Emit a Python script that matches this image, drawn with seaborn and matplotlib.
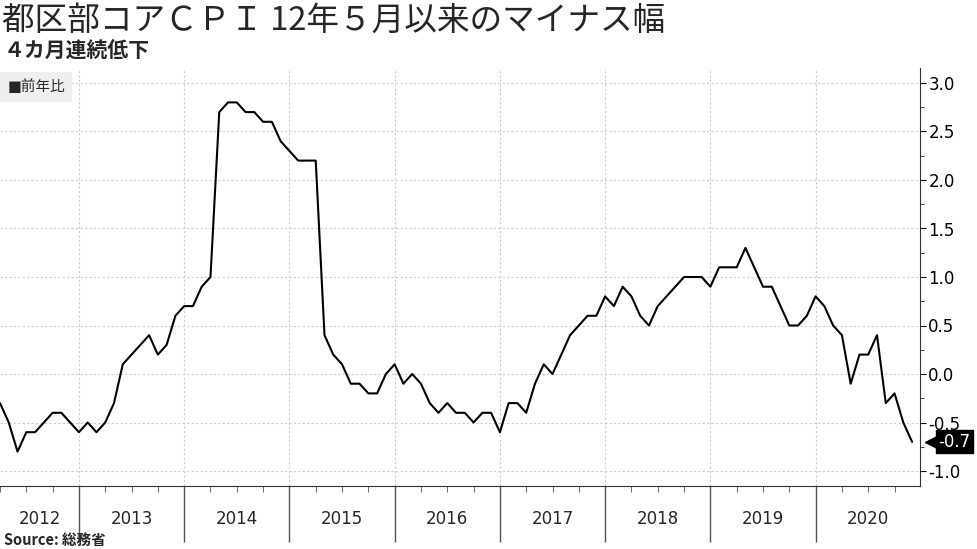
import numpy as np
import pandas as pd
import matplotlib
matplotlib.use("Agg")
import matplotlib.pyplot as plt
import seaborn as sns

start_year = 2012
start_month = 4
values = [-0.3,-0.5,-0.8,-0.6,-0.6,-0.5,-0.4,-0.4,-0.5,
          -0.6,-0.5,-0.6,-0.5,-0.3,0.1,0.2,0.3,0.4,0.2,0.3,0.6,
          0.7,0.7,0.9,1.0,2.7,2.8,2.8,2.7,2.7,2.6,2.6,2.4,
          2.3,2.2,2.2,2.2,0.4,0.2,0.1,-0.1,-0.1,-0.2,-0.2,0.0,
          0.1,-0.1,0.0,-0.1,-0.3,-0.4,-0.3,-0.4,-0.4,-0.5,-0.4,-0.4,
          -0.6,-0.3,-0.3,-0.4,-0.1,0.1,0.0,0.2,0.4,0.5,0.6,0.6,
          0.8,0.7,0.9,0.8,0.6,0.5,0.7,0.8,0.9,1.0,1.0,1.0,
          0.9,1.1,1.1,1.1,1.3,1.1,0.9,0.9,0.7,0.5,0.5,0.6,
          0.8,0.7,0.5,0.4,-0.1,0.2,0.2,0.4,-0.3,-0.2,-0.5,-0.7]
years = list(range(2012, 2021))
yticks = [3.0,2.5,2.0,1.5,1.0,0.5,0.0,-0.5,-1.0]
title = "都区部コアＣＰＩ 12年５月以来のマイナス幅"
subtitle = "４カ月連続低下"
legend_label = "前年比"
source = "Source: 総務省"

t = start_year + (start_month - 1) / 12 + np.arange(len(values)) / 12
df = pd.DataFrame({"t": t, "v": values})

sns.set_style("white")
plt.rcParams['font.family'] = ['Noto Sans CJK JP', 'DejaVu Sans']

fig = plt.figure(figsize=(9.77, 5.49), dpi=100)
ax = fig.add_axes([0, 1 - 486/549, 920/977, (486-68)/549])
sns.lineplot(data=df, x="t", y="v", ax=ax, color="black", lw=1.5)
x0 = t[0]

ax.yaxis.tick_right()
ax.set_yticks(yticks)
ax.set_yticklabels([f"{v:.1f}" for v in yticks], fontsize=12, family=['DejaVu Sans'])
ax.set_yticks(np.arange(-1.0, 3.01, 0.25), minor=True)
ax.tick_params(axis='y', which='major', right=True, length=4, pad=2, colors='black')
ax.tick_params(axis='y', which='minor', right=True, length=3)
for s in ["top", "left"]:
    ax.spines[s].set_visible(False)
ax.spines["right"].set_color("#333")
ax.spines["bottom"].set_color("#333")

ax.set_xticks(years[1:])
ax.set_xticklabels([])
ax.tick_params(axis='x', which='major', bottom=True, length=40, direction='out', color='#555', width=1)
ax.set_xticks(np.arange(2012, 2021.01, 0.25), minor=True)
ax.tick_params(axis='x', which='minor', bottom=True, length=4, color='#555')
ax.set_xlabel(""); ax.set_ylabel("")
ax.grid(True, which='major', color='#cccccc', ls=(0, (2, 2)), lw=0.8)
ax.set_xlim(x0, x0 + 920 / 8.77 / 12)
ax.set_ylim(-1.0 - 15/97, 3.0 + 15/97)

for y in years:
    xc = (x0 + y + 1) / 2 if y == 2012 else y + 0.5
    ax.text(xc, -0.078, str(y), transform=ax.get_xaxis_transform(), ha='center', va='center',
            fontsize=12, family=['DejaVu Sans'])

# last value tag
ax.plot([1.012], [values[-1]], marker='<', ms=9, color='black', clip_on=False,
        transform=ax.get_yaxis_transform())
ax.text(1.02, values[-1], f"{values[-1]:.1f}", transform=ax.get_yaxis_transform(), ha='left',
        va='center', color='white', fontsize=12, family=['DejaVu Sans'],
        bbox=dict(boxstyle='square,pad=0.15', fc='black', ec='black'))

# legend box
ax.text(0.008, 0.955, "■" + legend_label, transform=ax.transAxes, fontsize=10.5, va='center', ha='left',
        family=['DejaVu Sans', 'Noto Sans CJK JP'],
        bbox=dict(boxstyle='square,pad=0.5', fc='#efefef', ec='none'))

fig.text(0.002, 0.962, title, fontsize=23.5, va='center', ha='left')
fig.text(0.004, 0.906, subtitle, fontsize=15, fontweight='bold', va='center', ha='left')
fig.text(0.004, 0.017, source, fontsize=10.5, fontweight='bold', va='center', ha='left')

fig.savefig("out.png", dpi=100)
